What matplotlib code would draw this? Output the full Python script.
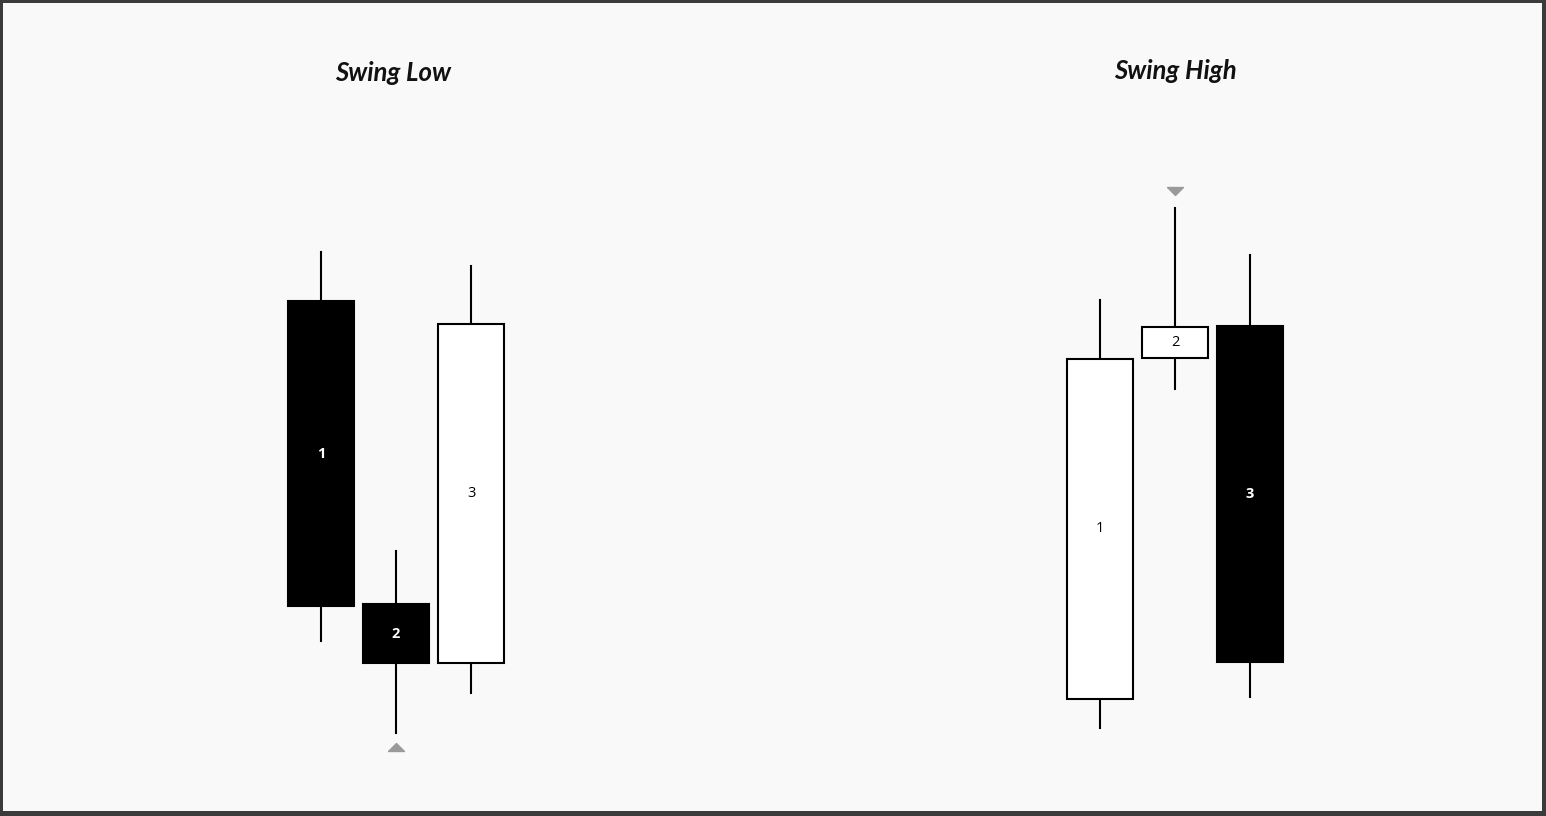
import matplotlib
matplotlib.use("Agg")
import matplotlib.pyplot as plt
from matplotlib.patches import Rectangle

# price units (arbitrary)
titles = ["Swing Low", "Swing High"]
labels = ["1", "2", "3"]
low_open = [515, 212, 153]
low_high = [564, 265, 550]
low_low = [175, 83, 123]
low_close = [210, 153, 492]
high_open = [117, 458, 490]
high_high = [516, 608, 561]
high_low = [88, 427, 119]
high_close = [457, 489, 154]
marker_offset = 14

W, H = 1546, 816
fig = plt.figure(figsize=(W / 100, H / 100), dpi=100, facecolor="#3b3b3b")
bg = fig.add_axes([3 / W, 5 / H, (W - 7) / W, (H - 8) / H])
bg.set_facecolor("#f9f9f9")
bg.set_xticks([])
bg.set_yticks([])
for s in bg.spines.values():
    s.set_visible(False)

up_tri = [(-1, -0.5), (1, -0.5), (0, 0.5), (-1, -0.5)]
down_tri = [(-1, 0.5), (1, 0.5), (0, -0.5), (-1, 0.5)]


def draw_group(ax, o, h, l, c, swing):
    for i in range(3):
        x = i + 1
        bear = c[i] < o[i]
        face = "black" if bear else "white"
        bot, top = min(o[i], c[i]), max(o[i], c[i])
        ax.plot([x, x], [top, h[i]], color="black", lw=1.5, zorder=1)
        ax.plot([x, x], [l[i], bot], color="black", lw=1.5, zorder=1)
        ax.add_patch(Rectangle((x - 0.44, bot), 0.88, top - bot, facecolor=face,
                               edgecolor="black", lw=1.5, zorder=2))
        ax.text(x, (top + bot) / 2, labels[i], color="white" if bear else "black",
                ha="center", va="center", fontsize=10.5, fontweight="bold" if bear else "normal",
                family="Open Sans", zorder=3)
    if swing == "low":
        ax.plot(2, l[1] - marker_offset, marker=up_tri, color="#9a9a9a", ms=11.5, zorder=3)
    else:
        ax.plot(2, h[1] + marker_offset + 3, marker=down_tri, color="#9a9a9a", ms=11.5, zorder=3)


for cx, title, data, swing in [(396, titles[0], (low_open, low_high, low_low, low_close), "low"),
                               (1175, titles[1], (high_open, high_high, high_low, high_close), "high")]:
    ax = fig.add_axes([(cx - 150) / W, 0, 300 / W, 1])
    ax.set_xlim(0, 4)
    ax.set_ylim(0, H)
    ax.axis("off")
    draw_group(ax, *data, swing)

fig.text(393 / W, 1 - 73 / H, titles[0], ha="center", va="center", fontsize=18.5,
         style="italic", fontweight="bold", family="Lato", color="#111111")
fig.text(1175 / W, 1 - 71 / H, titles[1], ha="center", va="center", fontsize=18.5,
         style="italic", fontweight="bold", family="Lato", color="#111111")

fig.savefig("out.png", dpi=100, facecolor=fig.get_facecolor())
